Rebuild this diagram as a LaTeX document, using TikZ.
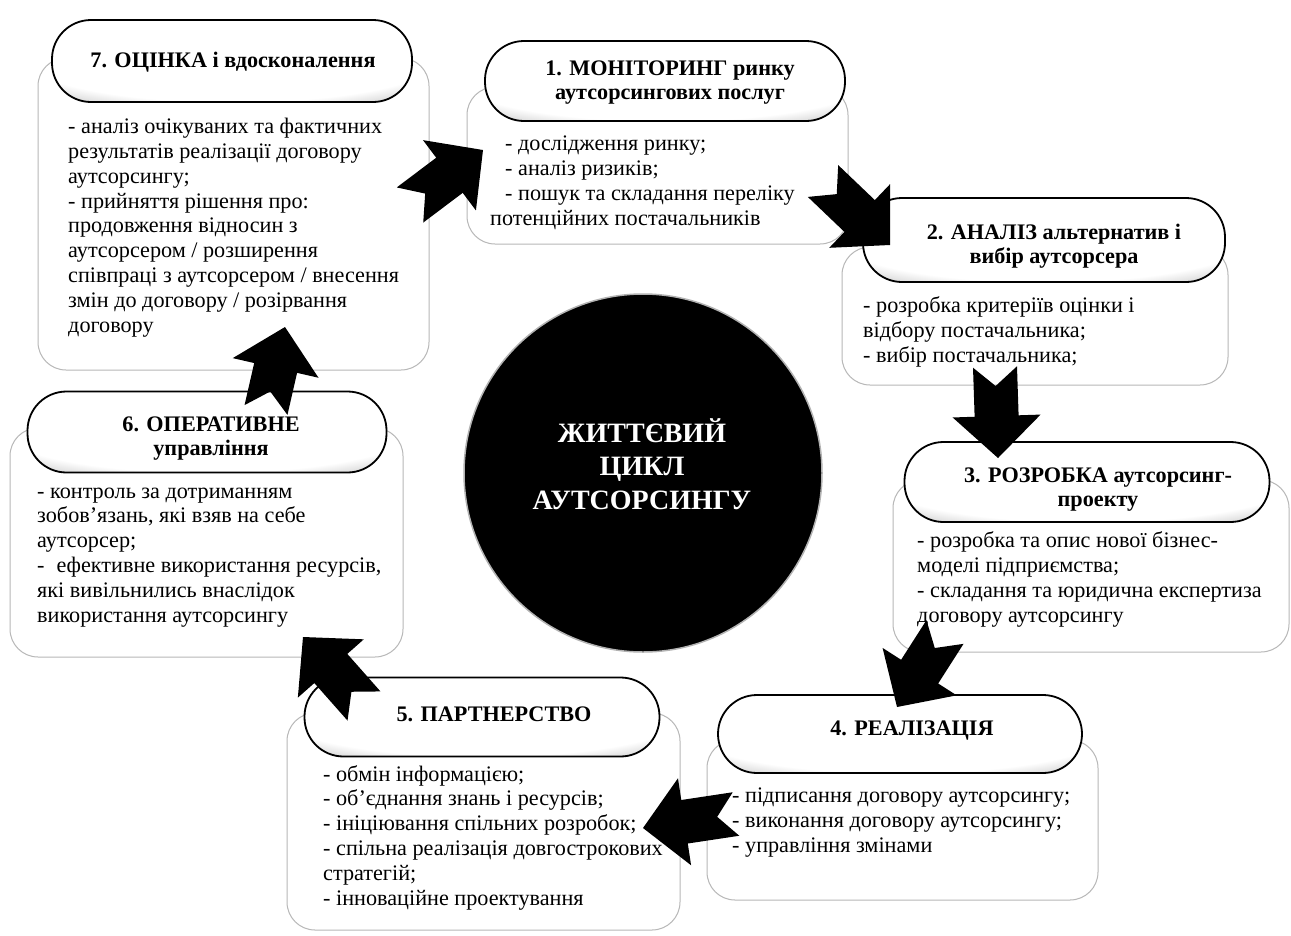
\documentclass[tikz,border=0pt]{standalone}
\usepackage{fontspec}
\setmainfont{Liberation Serif}
\usetikzlibrary{calc}

% soft rim for the stage headers: white centre, greyer towards the bottom edge
\pgfdeclareradialshading{hdrshade}{\pgfpoint{0bp}{8bp}}{%
  color(0bp)=(white); color(30bp)=(white); color(42bp)=(black!30);
  color(52bp)=(black!70); color(80bp)=(black!70)}

% notched block arrow from a tail coordinate to a tip coordinate
\newcommand\notcharrow[2]{%
  \coordinate (nh) at ($(#2)!42pt!(#1)$);
  \fill[flow] ($(#1)!22pt!90:(#2)$) -- ($(#1)!19pt!(#2)$) -- ($(#1)!22pt!-90:(#2)$)
    -- ($(nh)!22pt!-90:(#2)$) -- ($(nh)!44pt!-90:(#2)$) -- (#2)
    -- ($(nh)!44pt!90:(#2)$) -- ($(nh)!22pt!90:(#2)$) -- cycle;
}

\tikzset{
  bodybox/.style={draw=black!28, line width=1pt, fill=white, rounded corners=28pt,
    inner sep=0pt},
  hdr/.style={draw=black, line width=1.8pt, shade, shading=hdrshade,
    rounded corners=39pt, minimum height=80pt, inner sep=0pt},
  hdrtext/.style={font=\bfseries\fontsize{22.2}{24}\selectfont, align=center, inner sep=0pt},
  % anchored at the baseline of the last line
  bodytext/.style={font=\fontsize{22.2}{24.8}\selectfont, align=left, anchor=base west,
    inner sep=0pt},
  core/.style={circle, fill=black, draw=black!30, line width=1.5pt, minimum size=358pt,
    inner sep=0pt},
  coretext/.style={text=white, font=\bfseries\fontsize{28}{33.5}\selectfont,
    align=center, inner sep=0pt},
  flow/.style={fill=black}
}

\begin{document}
\begin{tikzpicture}[x=1pt, y=-1pt]
\useasboundingbox (0,0) rectangle (1291,935);
\fill[white] (0,0) rectangle (1291,935);

% content panels
\node[bodybox, minimum width=391pt, minimum height=312pt] (b7) at (233.5,214) {};
\node[bodybox, minimum width=381pt, minimum height=157pt] (b1) at (657.5,165.5) {};
\node[bodybox, minimum width=386pt, minimum height=138pt] (b2) at (1035,316) {};
\node[bodybox, minimum width=396pt, minimum height=172pt] (b3) at (1091,566) {};
\node[bodybox, minimum width=391pt, minimum height=160pt] (b4) at (902.5,820) {};
\node[bodybox, minimum width=393pt, minimum height=217pt] (b5) at (483.5,821.5) {};
\node[bodybox, minimum width=393pt, minimum height=229pt] (b6) at (206.5,542.5) {};

% stage headers
\node[hdr, minimum width=360pt, minimum height=82pt] (h7) at (232,61) {};
\node[hdr, minimum width=360pt] (h1) at (665,81) {};
\node[hdr, minimum width=362pt, minimum height=84pt] (h2) at (1044,240) {};
\node[hdr, minimum width=365pt] (h3) at (1087,482) {};
\node[hdr, minimum width=364pt, minimum height=78pt] (h4) at (900,734) {};
\node[hdr, minimum width=355pt, minimum height=79pt] (h5) at (482,717) {};
\node[hdr, minimum width=359pt, minimum height=81pt] (h6) at (207,432) {};

\node[hdrtext] (t7) at (233,62) {7. ОЦІНКА і вдосконалення};
\node[hdrtext] (t1) at (670,83) {1. МОНІТОРИНГ ринку\\аутсорсингових послуг};
\node[hdrtext] (t2) at (1054,246) {2. АНАЛІЗ альтернатив і\\вибір аутсорсера};
\node[hdrtext] (t3) at (1098,490) {3. РОЗРОБКА аутсорсинг-\\проекту};
\node[hdrtext] (t4) at (912,731) {4. РЕАЛІЗАЦІЯ};
\node[hdrtext] (t5) at (494,714) {5. ПАРТНЕРСТВО};
\node[hdrtext] (t6) at (211,439) {6. ОПЕРАТИВНЕ\\управління};

% panel texts
\node[bodytext] (x7) at (68,332) {- аналіз очікуваних та фактичних\\
результатів реалізації договору\\
аутсорсингу;\\
- прийняття рішення про:\\
продовження відносин з\\
аутсорсером / розширення\\
співпраці з аутсорсером / внесення\\
змін до договору / розірвання\\
договору};
\node[bodytext] (x1) at (490,225) {\hspace*{15pt}- дослідження ринку;\\
\hspace*{15pt}- аналіз ризиків;\\
\hspace*{15pt}- пошук та складання переліку\\
потенційних постачальників};
\node[bodytext] (x2) at (863,362) {- розробка критеріїв оцінки і\\
відбору постачальника;\\
- вибір постачальника;};
\node[bodytext] (x3) at (917,622) {- розробка та опис нової бізнес-\\
моделі підприємства;\\
- складання та юридична експертиза\\
договору аутсорсингу};
\node[bodytext] (x4) at (732,852) {- підписання договору аутсорсингу;\\
- виконання договору аутсорсингу;\\
- управління змінами};
\node[bodytext] (x5) at (323,905) {- обмін інформацією;\\
- об'єднання знань і ресурсів;\\
- ініціювання спільних розробок;\\
- спільна реалізація довгострокових\\
стратегій;\\
- інноваційне проектування};
\node[bodytext] (x6) at (37,622) {- контроль за дотриманням\\
зобов'язань, які взяв на себе\\
аутсорсер;\\
-\hspace*{12pt}ефективне використання ресурсів,\\
які вивільнились внаслідок\\
використання аутсорсингу};

% centre disc
\node[core] (core) at (643,473) {};
\node[coretext] (coretxt) at (642,464) {ЖИТТЄВИЙ\\ЦИКЛ\\АУТСОРСИНГУ};

% cycle arrows
\coordinate (a1t) at (410,205); \coordinate (a1p) at (483,150);
\coordinate (a2t) at (823,181); \coordinate (a2p) at (890,245);
\coordinate (a3t) at (995,367); \coordinate (a3p) at (998,458);
\coordinate (a4t) at (945,632); \coordinate (a4p) at (897,707);
\coordinate (a5t) at (736,814); \coordinate (a5p) at (643,828);
\coordinate (a6t) at (364,706); \coordinate (a6p) at (303,637);
\coordinate (a7t) at (266,410); \coordinate (a7p) at (285,327);
\notcharrow{a1t}{a1p}
\notcharrow{a2t}{a2p}
\notcharrow{a3t}{a3p}
\notcharrow{a4t}{a4p}
\notcharrow{a5t}{a5p}
\notcharrow{a6t}{a6p}
\notcharrow{a7t}{a7p}
\end{tikzpicture}
\end{document}
